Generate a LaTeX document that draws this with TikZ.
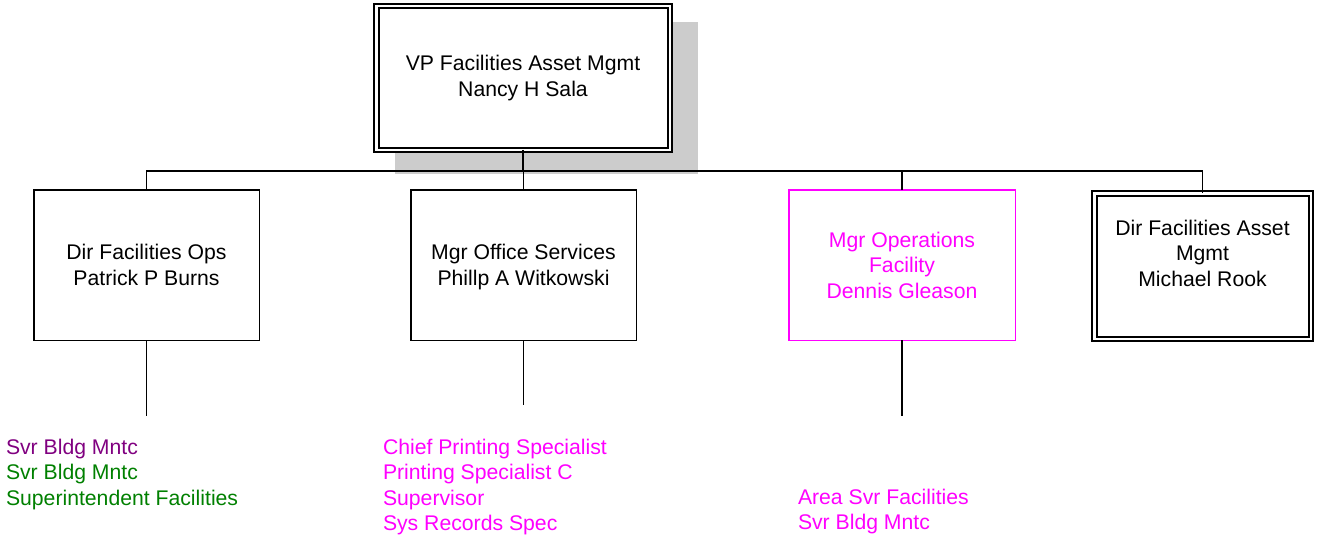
\documentclass[tikz,border=0pt]{standalone}
\usepackage{fontspec}
\setmainfont{Liberation Sans}
\definecolor{mag}{RGB}{255,0,255}
\definecolor{purp}{RGB}{128,0,128}
\definecolor{grn}{RGB}{0,128,0}
\definecolor{shadowgray}{RGB}{204,204,204}
\begin{document}
\begin{tikzpicture}[x=1pt,y=-1pt,
  every node/.style={font=\fontsize{21.2}{25.5}\selectfont, inner sep=0pt, outer sep=0pt},
  box/.style={draw, line width=1.5pt, fill=white, minimum height=150.5, align=center},
  dblbox/.style={draw, line width=2pt, double, double distance=2.5pt, fill=white, align=center},
  conn/.style={line width=1.5pt},
  lst/.style={anchor=north west, align=left}]
\useasboundingbox (0,0) rectangle (1318,535);
% shadow of top box
\fill[shadowgray] (395,22) rectangle (698,174);
\node[dblbox, minimum width=293.5, minimum height=143.5] (top) at (523,78) {VP Facilities Asset Mgmt\\Nancy H Sala};
\node[box, minimum width=225.5] (b1) at (146.5,265) {Dir Facilities Ops\\Patrick P Burns};
\node[box, minimum width=225.5] (b2) at (523.5,265) {\raisebox{0pt}[\height][0pt]{Mgr Office Services}\\\raisebox{0pt}[\height][0pt]{Phillp A Witkowski}};
\node[box, minimum width=226.5, draw=mag, text=mag] (b3) at (902,265) {Mgr Operations\\Facility\\Dennis Gleason};
\node[dblbox, minimum width=216.5, minimum height=145.5] (b4) at (1202.5,266) {Dir Facilities Asset\\Mgmt\\Michael Rook\\\mbox{}};
\coordinate (bus) at (0,171);
\draw[conn] (top.south) -- (top.south |- bus);
\draw[conn] (b1.north) -- (b1.north |- bus) -- (b4.north |- bus) -- (b4.north);
\draw[conn] (b2.north) -- (b2.north |- bus);
\draw[conn] (b3.north) -- (b3.north |- bus);
\coordinate (e1) at (b1.south |- 0,416);
\coordinate (e2) at (b2.south |- 0,405);
\coordinate (e3) at (b3.south |- 0,416);
\draw[conn] (b1.south) -- (e1);
\draw[conn] (b2.south) -- (e2);
\draw[conn] (b3.south) -- (e3);
\node[lst] (l1) at (6,439) {\textcolor{purp}{Svr Bldg Mntc}\\\textcolor{grn}{Svr Bldg Mntc}\\\textcolor{grn}{Superintendent Facilities}};
\node[lst, text=mag] (l2) at (383,439) {Chief Printing Specialist\\Printing Specialist C\\Supervisor\\Sys Records Spec};
\node[lst, text=mag] (l3) at (798,489) {Area Svr Facilities\\Svr Bldg Mntc};
\end{tikzpicture}
\end{document}
